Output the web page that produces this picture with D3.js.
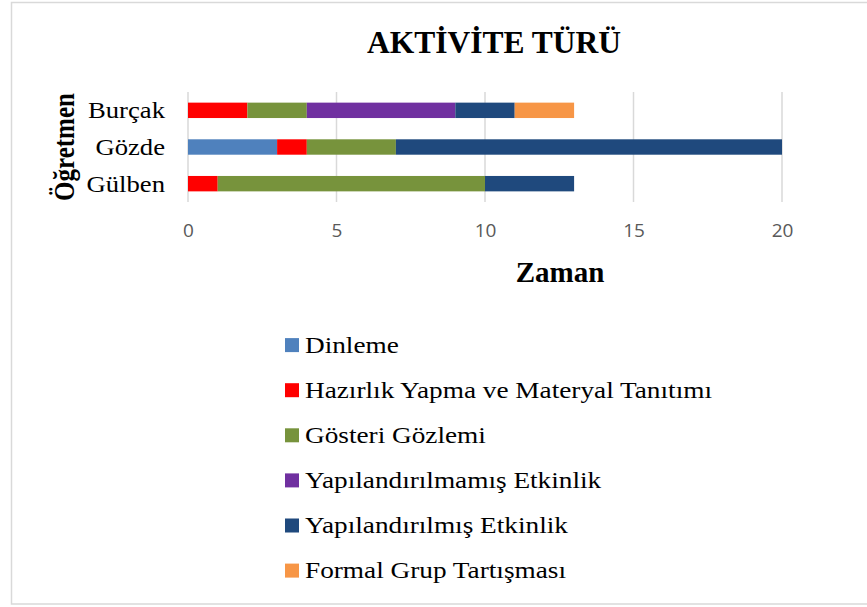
<!DOCTYPE html>
<html>
<head>
<meta charset="utf-8">
<script src="https://cdn.jsdelivr.net/npm/d3@7"></script>
<style>
  body { margin: 0; background: #fff; }
</style>
</head>
<body>
<div id="chart"></div>
<script>
var teachers = ["Burçak", "Gözde", "Gülben"];
var activities = ["Dinleme", "Hazırlık Yapma ve Materyal Tanıtımı", "Gösteri Gözlemi",
    "Yapılandırılmamış Etkinlik", "Yapılandırılmış Etkinlik", "Formal Grup Tartışması"];
var colors = ["#4f81bd", "#ff0000", "#77933c", "#7030a0", "#1f497d", "#f79646"];
// minutes per activity, same order as activities
var burcak = [0, 2, 2, 5, 2, 2];
var gozde = [3, 1, 3, 0, 13, 0];
var gulben = [0, 1, 9, 0, 3, 0];
var xTicks = [0, 5, 10, 15, 20];

var W = 867, H = 607;
var margin = { left: 188, right: 85, top: 92, bottom: 405 };
var serif = "'Liberation Serif', 'Times New Roman', serif";
var stretch = 1.16; // text in the picture is a bit wider than normal Times

var svg = d3.select("#chart").append("svg")
    .attr("width", W)
    .attr("height", H);

// chart frame
svg.append("rect")
    .attr("x", 11.5).attr("y", 2.5)
    .attr("width", 900).attr("height", 601.5)
    .attr("fill", "#fff")
    .attr("stroke", "#d9d9d9")
    .attr("stroke-width", 1.5);

var rows = [burcak, gozde, gulben].map(function(vals, i){
    var r = { teacher: teachers[i] };
    activities.forEach(function(a, j){ r[a] = vals[j]; });
    return r;
});

var stacked = d3.stack().keys(activities)(rows);

var x = d3.scaleLinear()
    .domain([0, 20])
    .range([margin.left, W - margin.right]);

var y = d3.scaleBand()
    .domain(teachers)
    .range([margin.top, H - margin.bottom])
    .paddingInner(0.58)
    .paddingOuter(0.29);

var color = d3.scaleOrdinal().domain(activities).range(colors);

// gridlines
svg.append("g")
    .selectAll("line")
    .data(xTicks)
    .enter().append("line")
    .attr("x1", function(d){ return x(d); })
    .attr("x2", function(d){ return x(d); })
    .attr("y1", margin.top)
    .attr("y2", H - margin.bottom)
    .attr("stroke", "#d9d9d9")
    .attr("stroke-width", 1.5);

// bars
svg.append("g")
    .selectAll("g")
    .data(stacked)
    .enter().append("g")
    .attr("fill", function(d){ return color(d.key); })
    .selectAll("rect")
    .data(function(d){ return d; })
    .enter().append("rect")
    .attr("x", function(d){ return x(d[0]); })
    .attr("y", function(d){ return y(d.data.teacher); })
    .attr("width", function(d){ return x(d[1]) - x(d[0]); })
    .attr("height", y.bandwidth());

// x tick labels
var xAxis = svg.append("g")
    .attr("transform", "translate(0," + (H - margin.bottom) + ")")
    .call(d3.axisBottom(x).tickValues(xTicks).tickSize(0).tickPadding(22));
xAxis.select(".domain").remove();
xAxis.selectAll("text")
    .attr("font-family", "'Open Sans', sans-serif")
    .attr("font-size", "19px")
    .attr("fill", "#595959");

// y category labels
svg.append("g")
    .selectAll("text")
    .data(teachers)
    .enter().append("text")
    .attr("transform", function(d){
        return "translate(165," + (y(d) + y.bandwidth() / 2 + 8) + ") scale(" + stretch + ",1)";
    })
    .attr("text-anchor", "end")
    .attr("font-family", serif)
    .attr("font-size", "23px")
    .attr("fill", "#000")
    .text(function(d){ return d; });

// titles
svg.append("text")
    .attr("x", 494).attr("y", 53)
    .attr("text-anchor", "middle")
    .attr("font-family", serif)
    .attr("font-weight", "bold")
    .attr("font-size", "31.5px")
    .text("AKTİVİTE TÜRÜ");

svg.append("text")
    .attr("x", 560).attr("y", 282)
    .attr("text-anchor", "middle")
    .attr("font-family", serif)
    .attr("font-weight", "bold")
    .attr("font-size", "29px")
    .text("Zaman");

svg.append("text")
    .attr("transform", "translate(74,147) scale(" + stretch + ",1) rotate(-90)")
    .attr("text-anchor", "middle")
    .attr("font-family", serif)
    .attr("font-weight", "bold")
    .attr("font-size", "25px")
    .text("Öğretmen");

// legend
var legend = svg.append("g")
    .selectAll("g")
    .data(activities)
    .enter().append("g")
    .attr("transform", function(d, i){ return "translate(285," + (352.7 + i * 45.1) + ")"; });

legend.append("rect")
    .attr("x", 0).attr("y", -14.6)
    .attr("width", 14).attr("height", 14)
    .attr("fill", function(d){ return color(d); });

legend.append("text")
    .attr("transform", "translate(20,0) scale(" + stretch + ",1)")
    .attr("font-family", serif)
    .attr("font-size", "23.5px")
    .attr("fill", "#000")
    .text(function(d){ return d; });
</script>
</body>
</html>
